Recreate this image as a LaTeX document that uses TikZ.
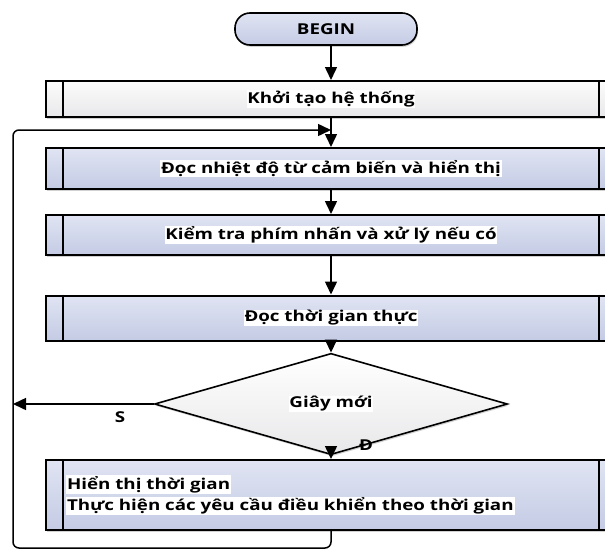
\documentclass[tikz,border=0pt]{standalone}
\usepackage{fontspec}
\setmainfont{Open Sans}
\usepackage{graphicx}
\usepackage{tikz}
\usetikzlibrary{positioning, arrows.meta, shapes.geometric, shadows}
\usepackage{xcolor}
\definecolor{lavtop}{RGB}{224,228,243}
\definecolor{lavbottom}{RGB}{196,203,228}
\definecolor{greytop}{RGB}{252,252,252}
\definecolor{greybottom}{RGB}{232,232,234}
\newcommand{\wtxt}[1]{\scalebox{1.25}[1]{#1}}
\newcommand{\hlt}[1]{{\setlength{\fboxsep}{0.8pt}\colorbox{white}{\wtxt{#1}}}}

\begin{document}
\begin{tikzpicture}[x=1pt, y=-1pt,
    font=\fontsize{15}{17}\selectfont\bfseries,
    procbox/.style={rectangle, draw=black, line width=2pt, minimum width=570pt, inner sep=0pt,
        top color=lavtop, bottom color=lavbottom,
        drop shadow={shadow xshift=1pt, shadow yshift=-1.8pt, opacity=.3, fill=black!60}},
    greybox/.style={top color=greytop, bottom color=greybottom},
    term/.style={rectangle, rounded corners=15pt, draw=black, line width=1.6pt, minimum width=182pt,
        minimum height=32pt, inner sep=0pt, top color=lavtop, bottom color=lavbottom,
        drop shadow={shadow xshift=1pt, shadow yshift=-1.8pt, opacity=.3, fill=black!60}},
    decision/.style={diamond, draw=black, line width=1.6pt, minimum width=353pt, minimum height=58pt,
        inner sep=0pt, top color=white, bottom color=greybottom,
        drop shadow={shadow xshift=1pt, shadow yshift=-1.8pt, opacity=.3, fill=black!60}},
    flow/.style={-{Triangle[length=13pt,width=12pt]}, line width=1.5pt}
]
    \useasboundingbox (0,0) rectangle (605,552);
    \clip (0,0) rectangle (605,552);

    % Start and set-up
    \node[term] (begin) at (326,29) {\wtxt{BEGIN}};
    \node[procbox, greybox, minimum height=36pt] (init) at (331,99) {\hlt{Khởi tạo hệ thống}};

    % Main loop
    \node[procbox, minimum height=41pt] (temp) at (331,168.5) {\hlt{Đọc nhiệt độ từ cảm biến và hiển thị}};
    \node[procbox, minimum height=40pt] (keys) at (331,235) {\hlt{Kiểm tra phím nhấn và xử lý nếu có}};
    \node[procbox, minimum height=45pt] (rtc) at (331,318) {\hlt{Đọc thời gian thực}};
    \node[decision] (newsec) at (331,404) {\hlt{Giây mới}};
    \node[procbox, minimum height=70pt] (act) at (331,495) {};
    \node[anchor=west, align=left, inner sep=0pt] (actText) at ([xshift=21pt]act.west)
        {\hlt{Hiển thị thời gian}\\[2pt]\hlt{Thực hiện các yêu cầu điều khiển theo thời gian}};

    % Inner bars of the predefined process boxes
    \foreach \n in {init, temp, keys, rtc, act} {
        \draw[line width=2pt] ([xshift=18pt]\n.north west) -- ([xshift=18pt]\n.south west);
        \draw[line width=2pt] ([xshift=-18pt]\n.north east) -- ([xshift=-18pt]\n.south east);
    }

    \coordinate (loopTop) at (13,130);
    \coordinate (loopIn) at (331,130);
    \coordinate (loopBot) at (331,548);

    \draw[flow] (begin.south -| init.north) -- (init.north);
    \draw[flow] (init) -- (temp);
    \draw[flow] (temp) -- (keys);
    \draw[flow] (keys) -- (rtc);
    \draw[flow] (rtc) -- (newsec);
    \draw[flow] (newsec) -- (act);
    \draw[flow] (newsec.west) -- (newsec.west -| loopTop);
    \draw[flow, rounded corners=6pt] (act.south) -- (loopBot) -| (loopTop) -- (loopIn);

    \node (lblS) at (120,417) {\wtxt{S}};
    \node (lblD) at (366,445) {\wtxt{Đ}};
\end{tikzpicture}
\end{document}
